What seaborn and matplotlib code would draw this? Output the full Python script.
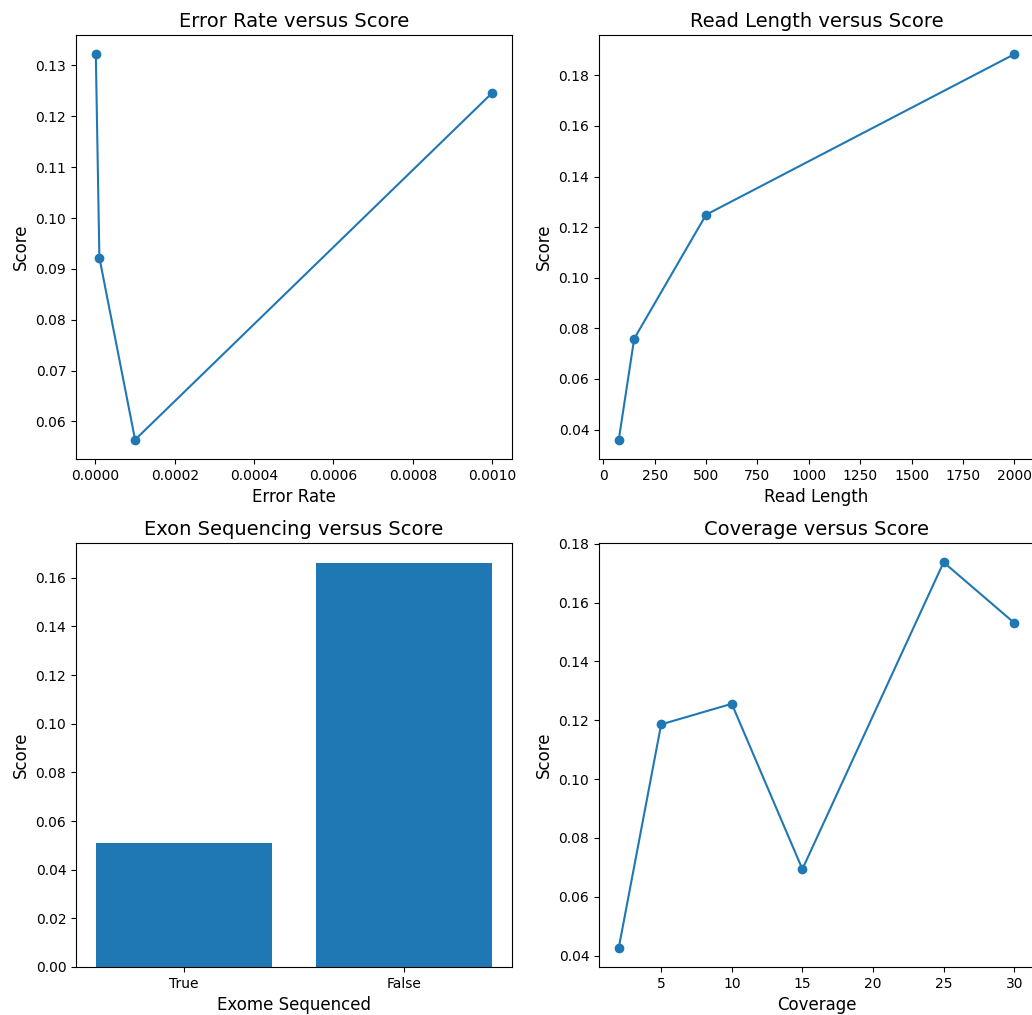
import matplotlib
matplotlib.use("Agg")
import matplotlib.pyplot as plt
import seaborn as sns
import pandas as pd

# ---- data ----
error_rate = [0.000001, 0.00001, 0.0001, 0.001]
error_score = [0.1322, 0.0922, 0.0564, 0.1246]

read_length = [75, 150, 500, 2000]
read_score = [0.0360, 0.0759, 0.1249, 0.1883]

exome_labels = ["True", "False"]
exome_score = [0.0510, 0.1660]

coverage = [2, 5, 10, 15, 25, 30]
coverage_score = [0.0427, 0.1186, 0.1256, 0.0694, 0.1737, 0.1531]

BLUE = "#1f77b4"
W, H = 1032, 1015
fig = plt.figure(figsize=(W / 100, H / 100), dpi=100)


def box(left, top, right, bottom):
    return [left / W, (H - bottom) / H, (right - left) / W, (bottom - top) / H]


ax1 = fig.add_axes(box(76, 35, 512, 459))
ax2 = fig.add_axes(box(599, 35, 1034, 459))
ax3 = fig.add_axes(box(76, 543, 512, 967))
ax4 = fig.add_axes(box(599, 543, 1034, 967))

line_kw = dict(color=BLUE, marker="o", markersize=6, markeredgecolor=BLUE,
               markeredgewidth=1, linewidth=1.5)

sns.lineplot(x=error_rate, y=error_score, ax=ax1, **line_kw)
ax1.set_title("Error Rate versus Score", fontsize=14)
ax1.set_xlabel("Error Rate", fontsize=12)
ax1.set_ylabel("Score", fontsize=12)

sns.lineplot(x=read_length, y=read_score, ax=ax2, **line_kw)
ax2.set_title("Read Length versus Score", fontsize=14)
ax2.set_xlabel("Read Length", fontsize=12)
ax2.set_ylabel("Score", fontsize=12)

df_ex = pd.DataFrame({"Exome Sequenced": exome_labels, "Score": exome_score})
sns.barplot(data=df_ex, x="Exome Sequenced", y="Score", order=exome_labels,
            color=BLUE, saturation=1, width=0.8, ax=ax3, linewidth=0,
            errorbar=None)
ax3.set_xlim(-0.49, 1.49)
ax3.set_title("Exon Sequencing versus Score", fontsize=14)
ax3.set_xlabel("Exome Sequenced", fontsize=12)
ax3.set_ylabel("Score", fontsize=12)

sns.lineplot(x=coverage, y=coverage_score, ax=ax4, **line_kw)
ax4.set_title("Coverage versus Score", fontsize=14)
ax4.set_xlabel("Coverage", fontsize=12)
ax4.set_ylabel("Score", fontsize=12)

fig.savefig("out.png", dpi=100)
